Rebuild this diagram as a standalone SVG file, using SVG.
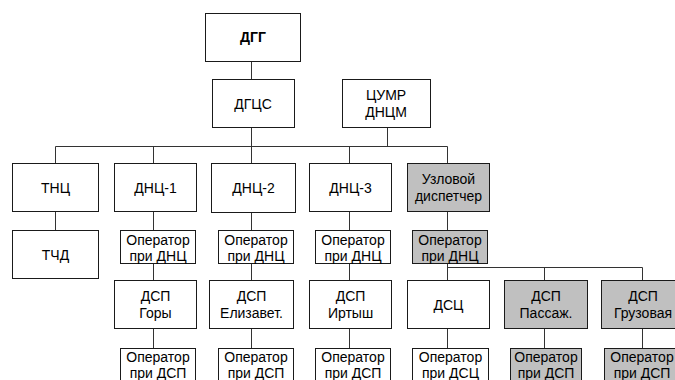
<svg xmlns="http://www.w3.org/2000/svg" width="675" height="380" viewBox="0 0 675 380">
<style>
.b{fill:#fff;stroke:#1a1a1a;stroke-width:1}
.g{fill:#c0c0c0;stroke:#1a1a1a;stroke-width:1}
.t{font-family:"Liberation Sans",Arial,sans-serif;font-size:14px;fill:#000;text-anchor:middle}
.tb{font-weight:bold}
.c{fill:none;stroke:#333;stroke-width:1}
</style>
<rect width="675" height="380" fill="#fff"/>
<g id="connectors">
<path class="c" d="M251.5 62V79 M251.5 128V146.5 M387.5 128V146.5 M55.5 146.5H447.5 M55.5 146.5V163 M153.5 146.5V163 M251.5 146.5V163 M349.5 146.5V163 M447.5 146.5V163"/>
<path class="c" d="M55.5 212V230 M153.5 212V230 M251.5 212V230 M349.5 212V230 M447.5 212V230"/>
<path class="c" d="M153.5 264V281 M251.5 264V281 M349.5 264V281 M447.5 264V281 M447.5 267.5H642.5 M544.5 267.5V281 M642.5 267.5V281"/>
<path class="c" d="M153.5 329V348 M251.5 329V348 M349.5 329V348 M447.5 329V348 M544.5 329V348 M642.5 329V348"/>
</g>
<g id="dgg"><rect class="b" x="205.5" y="13.5" width="95" height="48"/><text class="t tb" x="253" y="42">ДГГ</text></g>
<g id="dgcs"><rect class="b" x="212.5" y="79.5" width="82" height="48"/><text class="t" x="253" y="109">ДГЦС</text></g>
<g id="cumr"><rect class="b" x="342.5" y="79.5" width="88" height="48"/><text class="t" x="386" y="100">ЦУМР</text><text class="t" x="386" y="117">ДНЦМ</text></g>
<g id="tnc"><rect class="b" x="12.5" y="163.5" width="86" height="48"/><text class="t" x="55.5" y="193">ТНЦ</text></g>
<g id="tchd"><rect class="b" x="12.5" y="230.5" width="86" height="48"/><text class="t" x="55.5" y="260">ТЧД</text></g>
<g id="dnc1"><rect class="b" x="114.5" y="163.5" width="82" height="48"/><text class="t" x="155.5" y="193">ДНЦ-1</text></g>
<g id="dnc2"><rect class="b" x="211.5" y="163.5" width="84" height="49"/><text class="t" x="253.5" y="193">ДНЦ-2</text></g>
<g id="dnc3"><rect class="b" x="309.5" y="163.5" width="82" height="48"/><text class="t" x="350.5" y="193">ДНЦ-3</text></g>
<g id="uzl"><rect class="g" x="407.5" y="163.5" width="82" height="48"/><text class="t" x="448.5" y="184">Узловой</text><text class="t" x="448.5" y="201">диспетчер</text></g>
<g id="op1"><rect class="b" x="120.5" y="230.5" width="75" height="33"/><text class="t" x="158" y="245">Оператор</text><text class="t" x="158" y="261">при ДНЦ</text></g>
<g id="op2"><rect class="b" x="218.5" y="230.5" width="75" height="33"/><text class="t" x="256" y="245">Оператор</text><text class="t" x="256" y="261">при ДНЦ</text></g>
<g id="op3"><rect class="b" x="315.5" y="230.5" width="75" height="33"/><text class="t" x="353" y="245">Оператор</text><text class="t" x="353" y="261">при ДНЦ</text></g>
<g id="op4"><rect class="g" x="412.5" y="230.5" width="75" height="33"/><text class="t" x="450" y="245">Оператор</text><text class="t" x="450" y="261">при ДНЦ</text></g>
<g id="dsp1"><rect class="b" x="114.5" y="280.5" width="82" height="48"/><text class="t" x="155.5" y="301">ДСП</text><text class="t" x="155.5" y="318">Горы</text></g>
<g id="dsp2"><rect class="b" x="209.5" y="280.5" width="84" height="48"/><text class="t" x="251.5" y="301">ДСП</text><text class="t" x="251.5" y="318">Елизавет.</text></g>
<g id="dsp3"><rect class="b" x="309.5" y="280.5" width="82" height="48"/><text class="t" x="350.5" y="301">ДСП</text><text class="t" x="350.5" y="318">Иртыш</text></g>
<g id="dsc"><rect class="b" x="407.5" y="280.5" width="82" height="48"/><text class="t" x="448.5" y="310">ДСЦ</text></g>
<g id="dsp5"><rect class="g" x="504.5" y="280.5" width="83" height="48"/><text class="t" x="546" y="301">ДСП</text><text class="t" x="546" y="318">Пассаж.</text></g>
<g id="dsp6"><rect class="g" x="601.5" y="280.5" width="83" height="48"/><text class="t" x="643" y="301">ДСП</text><text class="t" x="643" y="318">Грузовая</text></g>
<g id="opd1"><rect class="b" x="120.5" y="348.5" width="75" height="36"/><text class="t" x="158" y="362">Оператор</text><text class="t" x="158" y="378">при ДСП</text></g>
<g id="opd2"><rect class="b" x="218.5" y="348.5" width="75" height="36"/><text class="t" x="256" y="362">Оператор</text><text class="t" x="256" y="378">при ДСП</text></g>
<g id="opd3"><rect class="b" x="315.5" y="348.5" width="75" height="36"/><text class="t" x="353" y="362">Оператор</text><text class="t" x="353" y="378">при ДСП</text></g>
<g id="opd4"><rect class="b" x="412.5" y="348.5" width="76" height="36"/><text class="t" x="450.5" y="362">Оператор</text><text class="t" x="450.5" y="378">при ДСЦ</text></g>
<g id="opd5"><rect class="g" x="510.5" y="348.5" width="71" height="36"/><text class="t" x="546" y="362">Оператор</text><text class="t" x="546" y="378">при ДСП</text></g>
<g id="opd6"><rect class="g" x="604.5" y="348.5" width="75" height="36"/><text class="t" x="642" y="362">Оператор</text><text class="t" x="642" y="378">при ДСП</text></g>
</svg>
